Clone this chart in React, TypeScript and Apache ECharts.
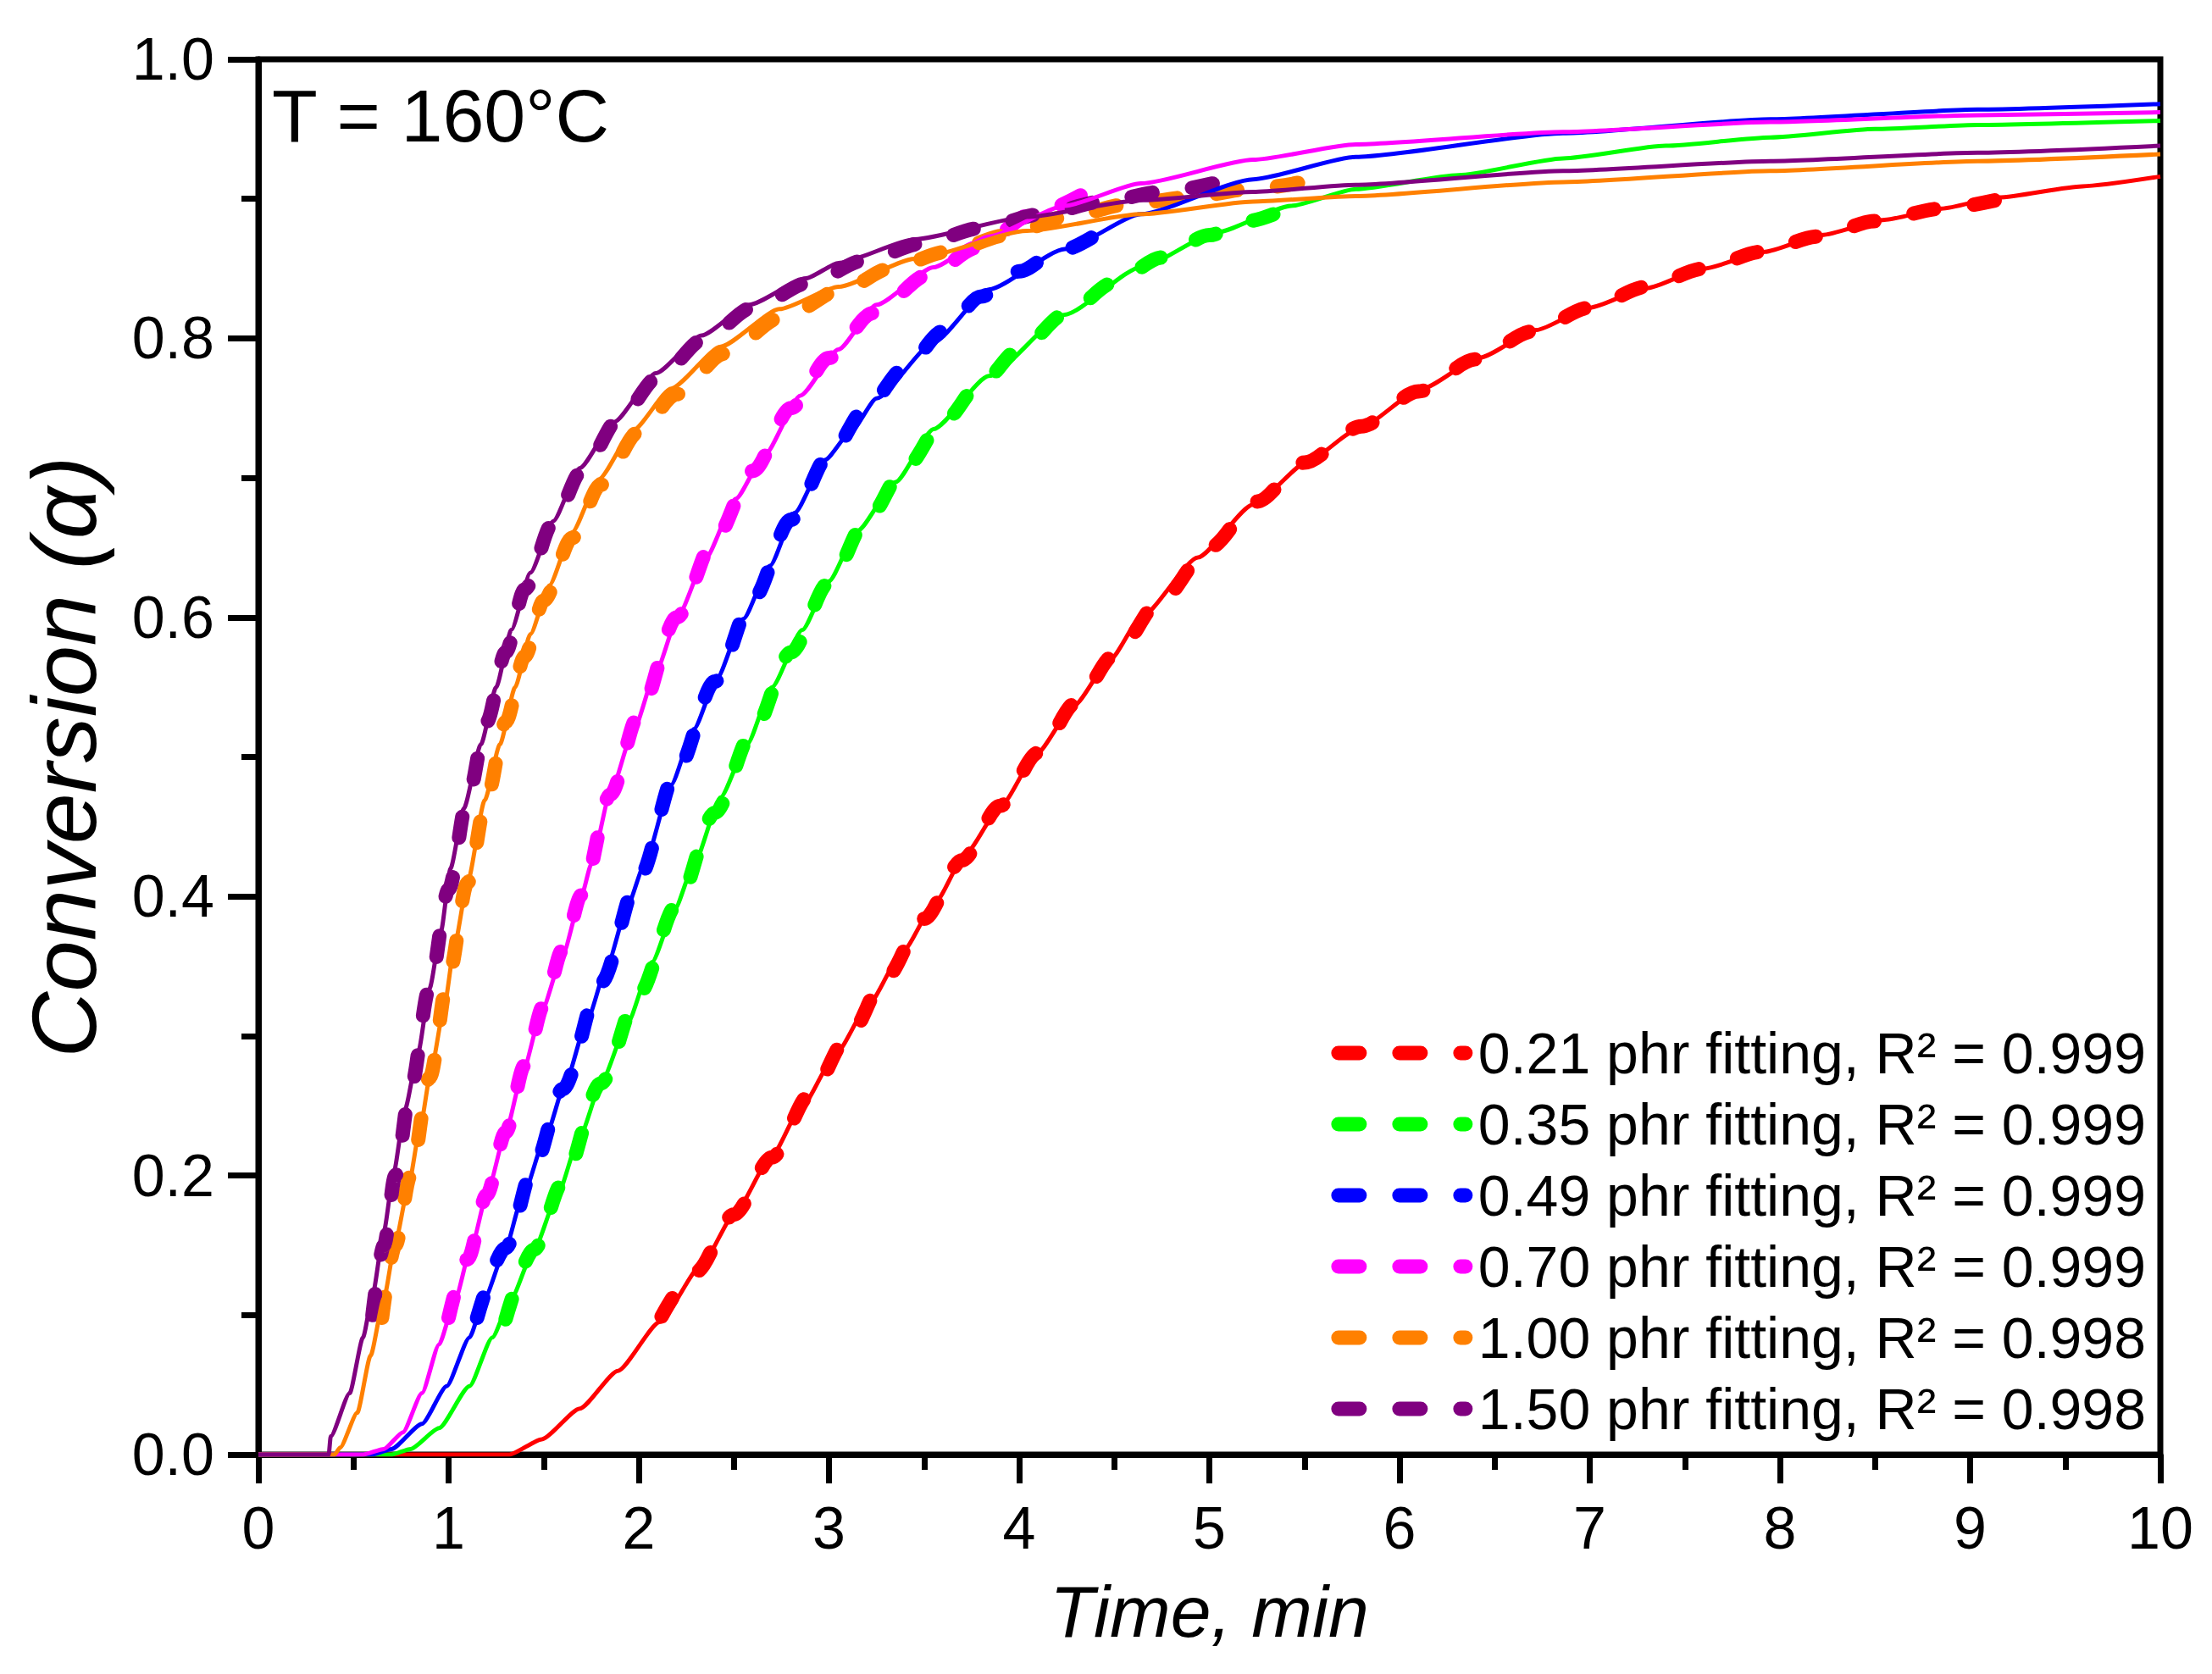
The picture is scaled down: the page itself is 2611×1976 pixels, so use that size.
import { useEffect, useRef } from "react";
import * as echarts from "echarts";

type Pt = [number, number];

// experimental conversion curves, [time min, alpha]
const exp021: Pt[] = [
  [0, 0], [1.32, 0], [1.49, 0.011], [1.69, 0.033], [1.89, 0.06], [2.11, 0.095], [2.33, 0.136],
  [2.51, 0.174], [2.69, 0.212], [2.86, 0.25], [3.04, 0.288], [3.21, 0.323], [3.39, 0.361],
  [3.56, 0.396], [3.72, 0.431], [3.91, 0.466], [4.09, 0.502], [4.29, 0.537], [4.48, 0.57],
  [4.64, 0.6], [4.94, 0.643], [5.23, 0.681], [5.53, 0.713], [5.77, 0.734], [6.12, 0.764],
  [6.42, 0.786], [6.72, 0.806], [7.0, 0.822], [7.3, 0.836], [7.6, 0.85], [7.92, 0.862],
  [8.22, 0.874], [8.55, 0.885], [8.85, 0.893], [9.15, 0.901], [9.59, 0.909], [10, 0.916],
];
const exp035: Pt[] = [
  [0, 0], [0.7, 0], [0.8, 0.004], [0.95, 0.019], [1.11, 0.049], [1.23, 0.084], [1.33, 0.112],
  [1.45, 0.147], [1.57, 0.185], [1.69, 0.228], [1.81, 0.269], [1.94, 0.309], [2.07, 0.353],
  [2.19, 0.391], [2.29, 0.423], [2.43, 0.471], [2.57, 0.509], [2.7, 0.55], [2.86, 0.591],
  [3.0, 0.626], [3.15, 0.662], [3.35, 0.697], [3.55, 0.735], [3.84, 0.773], [4.24, 0.817],
  [4.64, 0.851], [5.04, 0.876], [5.43, 0.895], [5.77, 0.907], [6.31, 0.917], [6.86, 0.929],
  [7.4, 0.938], [7.95, 0.944], [8.5, 0.95], [9.04, 0.953], [10, 0.956],
];
const exp049: Pt[] = [
  [0, 0], [0.6, 0], [0.7, 0.004], [0.86, 0.022], [0.99, 0.049], [1.11, 0.084], [1.19, 0.112],
  [1.29, 0.144], [1.39, 0.185], [1.51, 0.228], [1.62, 0.269], [1.73, 0.312], [1.84, 0.353],
  [1.94, 0.393], [2.03, 0.423], [2.17, 0.48], [2.29, 0.52], [2.41, 0.556], [2.55, 0.599],
  [2.69, 0.637], [2.82, 0.675], [2.98, 0.713], [3.12, 0.734], [3.25, 0.757], [3.55, 0.797],
  [3.84, 0.835], [4.24, 0.864], [4.64, 0.889], [5.23, 0.914], [5.77, 0.93], [6.86, 0.947],
  [7.95, 0.957], [9.04, 0.964], [10, 0.968],
];
const exp070: Pt[] = [
  [0, 0], [0.55, 0], [0.66, 0.004], [0.76, 0.016], [0.86, 0.044], [0.95, 0.079], [1.03, 0.109],
  [1.12, 0.149], [1.21, 0.191], [1.3, 0.231], [1.39, 0.274], [1.49, 0.318], [1.6, 0.358],
  [1.7, 0.401], [1.75, 0.423], [1.85, 0.474], [1.97, 0.518], [2.09, 0.561], [2.21, 0.602],
  [2.35, 0.642], [2.51, 0.685], [2.66, 0.716], [2.85, 0.759], [3.05, 0.792], [3.25, 0.824],
  [3.55, 0.851], [3.84, 0.873], [4.24, 0.895], [4.64, 0.911], [5.23, 0.928], [5.77, 0.939],
  [6.86, 0.948], [7.95, 0.955], [9.04, 0.96], [10, 0.962],
];
const exp100: Pt[] = [
  [0, 0], [0.4, 0], [0.43, 0.005], [0.52, 0.03], [0.59, 0.071], [0.66, 0.112], [0.72, 0.152],
  [0.79, 0.193], [0.85, 0.234], [0.91, 0.277], [0.98, 0.323], [1.03, 0.364], [1.1, 0.41],
  [1.19, 0.469], [1.27, 0.509], [1.35, 0.55], [1.43, 0.588], [1.53, 0.623], [1.65, 0.661],
  [1.79, 0.699], [1.97, 0.734], [2.17, 0.764], [2.43, 0.794], [2.74, 0.821], [3.05, 0.837],
  [3.45, 0.857], [4.04, 0.877], [4.64, 0.889], [5.23, 0.898], [5.77, 0.902], [6.86, 0.912],
  [7.95, 0.92], [9.04, 0.927], [10, 0.932],
];
const exp150: Pt[] = [
  [0, 0], [0.37, 0], [0.38, 0.013], [0.48, 0.044], [0.55, 0.084], [0.6, 0.114], [0.66, 0.16],
  [0.71, 0.201], [0.77, 0.247], [0.84, 0.288], [0.9, 0.334], [0.96, 0.375], [1.01, 0.42],
  [1.08, 0.463], [1.17, 0.509], [1.25, 0.55], [1.33, 0.591], [1.43, 0.632], [1.55, 0.669],
  [1.69, 0.707], [1.87, 0.74], [2.09, 0.775], [2.33, 0.802], [2.58, 0.824], [2.88, 0.843],
  [3.05, 0.854], [3.45, 0.871], [4.04, 0.887], [4.64, 0.899], [5.23, 0.905], [5.77, 0.91],
  [6.86, 0.92], [7.95, 0.927], [9.04, 0.933], [10, 0.938],
];

// model fitting curves
const fit021: Pt[] = [
  [2.12, 0.099], [2.3, 0.131], [2.5, 0.172], [2.7, 0.213], [2.9, 0.258], [3.1, 0.299],
  [3.3, 0.342], [3.5, 0.384], [3.7, 0.426], [3.9, 0.465], [4.1, 0.503], [4.3, 0.539],
  [4.5, 0.573], [4.75, 0.613], [5.0, 0.65], [5.25, 0.683], [5.5, 0.711], [5.8, 0.737],
  [6.1, 0.762], [6.4, 0.785], [6.7, 0.805], [7.0, 0.822], [7.3, 0.837], [7.6, 0.85],
  [7.9, 0.862], [8.2, 0.873], [8.5, 0.884], [8.85, 0.893], [9.2, 0.901],
];
const fit035: Pt[] = [
  [1.3, 0.097], [1.45, 0.147], [1.6, 0.195], [1.8, 0.266], [2.0, 0.33], [2.2, 0.394],
  [2.4, 0.46], [2.6, 0.518], [2.8, 0.575], [3.0, 0.625], [3.2, 0.67], [3.4, 0.707],
  [3.6, 0.74], [3.8, 0.768], [4.0, 0.792], [4.25, 0.818], [4.5, 0.84], [4.75, 0.858],
  [5.0, 0.874], [5.2, 0.884], [5.41, 0.893],
];
const fit049: Pt[] = [
  [1.15, 0.098], [1.3, 0.148], [1.45, 0.207], [1.6, 0.262], [1.8, 0.338], [2.0, 0.413],
  [2.2, 0.49], [2.4, 0.554], [2.6, 0.613], [2.8, 0.67], [3.0, 0.716], [3.2, 0.751],
  [3.4, 0.779], [3.6, 0.805], [3.8, 0.83], [4.0, 0.848], [4.2, 0.862], [4.45, 0.878],
];
const fit070: Pt[] = [
  [1.0, 0.098], [1.1, 0.14], [1.2, 0.186], [1.3, 0.231], [1.4, 0.279], [1.5, 0.322],
  [1.6, 0.362], [1.7, 0.401], [1.85, 0.473], [2.0, 0.53], [2.2, 0.6], [2.4, 0.656],
  [2.6, 0.705], [2.8, 0.75], [3.0, 0.786], [3.23, 0.818], [3.53, 0.846], [3.78, 0.865],
  [4.07, 0.889], [4.33, 0.903],
];
const fit100: Pt[] = [
  [0.65, 0.098], [0.72, 0.15], [0.8, 0.2], [0.9, 0.27], [1.0, 0.343], [1.1, 0.41],
  [1.2, 0.47], [1.3, 0.525], [1.4, 0.572], [1.5, 0.612], [1.65, 0.657], [1.8, 0.695],
  [2.0, 0.733], [2.2, 0.76], [2.45, 0.789], [2.75, 0.815], [3.1, 0.837], [3.32, 0.85],
  [3.62, 0.862], [3.94, 0.874], [4.25, 0.887], [4.57, 0.896], [4.89, 0.901], [5.21, 0.907],
  [5.53, 0.913],
];
const fit150: Pt[] = [
  [0.6, 0.1], [0.66, 0.15], [0.72, 0.2], [0.8, 0.262], [0.9, 0.335], [1.0, 0.405],
  [1.1, 0.47], [1.2, 0.525], [1.3, 0.575], [1.4, 0.62], [1.55, 0.668], [1.7, 0.705],
  [1.9, 0.743], [2.1, 0.772], [2.35, 0.8], [2.6, 0.822], [2.9, 0.84], [3.19, 0.856],
  [3.49, 0.868], [3.8, 0.879], [4.12, 0.889], [4.44, 0.898], [4.75, 0.905], [5.05, 0.912],
];

const loadings = ["0.21", "0.35", "0.49", "0.70", "1.00", "1.50"];
const rSquared = ["0.999", "0.999", "0.999", "0.999", "0.998", "0.998"];
const colors = ["#FF0000", "#00FF00", "#0000FF", "#FF00FF", "#FF8000", "#800080"];
const expData = [exp021, exp035, exp049, exp070, exp100, exp150];
const fitData = [fit021, fit035, fit049, fit070, fit100, fit150];

const FONT = "'Liberation Sans', Arial, sans-serif";
const DASH = [25, 47];

export default function App() {
  const ref = useRef<HTMLDivElement | null>(null);

  useEffect(() => {
    if (!ref.current) return;
    const chart = echarts.init(ref.current, undefined, { renderer: "svg" });

    const fitNames = loadings.map((l, i) => `${l} phr fitting, R² = ${rSquared[i]}`);

    const fitSeries = fitData.map((d, i) => ({
      name: fitNames[i],
      type: "line",
      data: d,
      showSymbol: false,
      symbol: "none",
      smooth: 0.3,
      smoothMonotone: "x",
      color: colors[i],
      lineStyle: { color: colors[i], width: 17, type: DASH, cap: "round" },
      z: 2,
    }));
    const expSeries = expData.map((d, i) => ({
      name: `${loadings[i]} phr`,
      type: "line",
      data: d,
      showSymbol: false,
      symbol: "none",
      smooth: 0.2,
      smoothMonotone: "x",
      color: colors[i],
      lineStyle: { color: colors[i], width: 5, join: "round" },
      z: 3,
    }));

    chart.setOption({
      animation: false,
      backgroundColor: "#ffffff",
      textStyle: { fontFamily: FONT, color: "#000" },
      grid: {
        left: 305,
        right: 61,
        top: 70,
        bottom: 259,
        show: true,
        borderColor: "#000",
        borderWidth: 7,
        backgroundColor: "transparent",
      },
      xAxis: {
        type: "value",
        min: 0,
        max: 10,
        interval: 1,
        name: "Time, min",
        nameLocation: "middle",
        nameGap: 142,
        nameTextStyle: { fontFamily: FONT, fontSize: 86, fontStyle: "italic", color: "#000" },
        axisLine: { show: true, lineStyle: { color: "#000", width: 7 } },
        axisTick: { show: true, length: 34, lineStyle: { color: "#000", width: 7 } },
        minorTick: { show: true, splitNumber: 2, length: 18, lineStyle: { color: "#000", width: 7 } },
        axisLabel: { fontFamily: FONT, fontSize: 70, color: "#000", margin: 52 },
        splitLine: { show: false },
      },
      yAxis: {
        type: "value",
        min: 0,
        max: 1,
        interval: 0.2,
        name: "Conversion (α)",
        nameLocation: "middle",
        nameGap: 176,
        nameTextStyle: { fontFamily: FONT, fontSize: 108, fontStyle: "italic", color: "#000" },
        axisLine: { show: true, lineStyle: { color: "#000", width: 7 } },
        axisTick: { show: true, length: 36, lineStyle: { color: "#000", width: 7 } },
        minorTick: { show: true, splitNumber: 2, length: 20, lineStyle: { color: "#000", width: 7 } },
        axisLabel: {
          fontFamily: FONT,
          fontSize: 70,
          color: "#000",
          margin: 52,
          formatter: (v: number) => v.toFixed(1),
        },
        splitLine: { show: false },
      },
      legend: {
        data: fitNames,
        orient: "vertical",
        right: 78,
        top: 1209,
        padding: 0,
        itemGap: 16,
        itemWidth: 150,
        itemHeight: 18,
        selectedMode: false,
        lineStyle: { width: 17, type: DASH, cap: "round" },
        itemStyle: { color: "transparent", borderWidth: 0, opacity: 0 },
        textStyle: {
          fontFamily: FONT,
          fontSize: 68,
          lineHeight: 68,
          color: "#000",
          padding: [0, 0, 0, 10],
        },
      },
      graphic: [
        {
          type: "text",
          left: 321,
          top: 92,
          style: {
            text: "T = 160°C",
            fontFamily: FONT,
            fontSize: 88,
            fill: "#000",
          },
        },
      ],
      series: [...fitSeries, ...expSeries],
    } as any);

    return () => chart.dispose();
  }, []);

  return (
    <div
      ref={ref}
      style={{ position: "absolute", left: 0, top: 0, width: 2611, height: 1976, background: "#fff" }}
    />
  );
}
